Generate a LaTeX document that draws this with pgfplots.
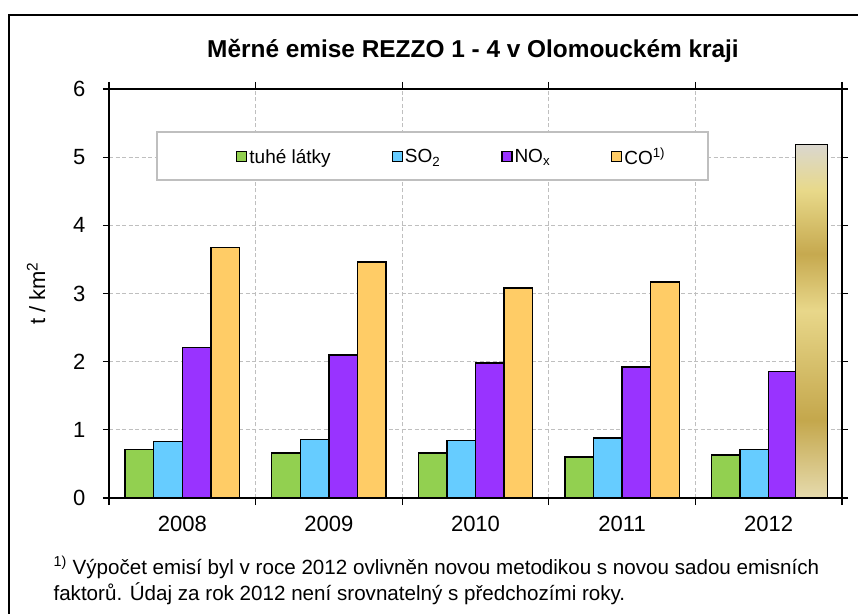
\documentclass[border=0pt]{standalone}
\usepackage{fontspec}
\setmainfont{Liberation Sans}
\usepackage{pgfplots}
\pgfplotsset{compat=1.18}
\definecolor{cgreen}{RGB}{146,208,80}
\definecolor{cblue}{RGB}{102,204,255}
\definecolor{cpurple}{RGB}{153,51,255}
\definecolor{corange}{RGB}{255,204,102}
\definecolor{cgrid}{RGB}{191,191,191}
\definecolor{g1}{RGB}{230,219,174}
\definecolor{g2}{RGB}{196,167,76}
\definecolor{g3}{RGB}{232,215,138}
\definecolor{g4}{RGB}{198,169,79}
\definecolor{g5}{RGB}{232,217,138}
\definecolor{g6}{RGB}{218,215,207}
\pgfdeclareverticalshading{goldbar}{100bp}{color(0bp)=(g1); color(25bp)=(g1); color(36bp)=(g2); color(51.5bp)=(g3); color(59.5bp)=(g4); color(68.5bp)=(g5); color(75bp)=(g6); color(100bp)=(g6)}
\begin{document}
\begin{tikzpicture}
\useasboundingbox (0pt,0pt) rectangle (858pt,613pt);
\draw[line width=1.2pt] (9pt,-5pt) -- (9pt,598pt) -- (870pt,598pt);
\node[anchor=base, font=\fontsize{24.4}{29}\selectfont\bfseries] at (473pt,555pt) {Měrné emise REZZO 1 - 4 v Olomouckém kraji};
\begin{axis}[
  at={(109pt,115pt)}, anchor=south west,
  scale only axis, width=733pt, height=409pt,
  xmin=0.5, xmax=5.5, ymin=0, ymax=6,
  ytick={0,1,2,3,4,5,6},
  xtick={1,2,3,4,5}, xticklabels={2008,2009,2010,2011,2012},
  minor xtick={0.5,1.5,2.5,3.5,4.5,5.5},
  tick align=outside,
  major tick length=6pt, minor tick length=7pt,
  every major x tick/.append style={draw=none},
  every minor x tick/.append style={black, line width=1.2pt},
  every major y tick/.append style={black, line width=1.2pt},
  ymajorgrids, xminorgrids,
  major grid style={cgrid, line width=1.3pt, dash pattern=on 4pt off 2.5pt},
  minor grid style={cgrid, line width=1.3pt, dash pattern=on 4pt off 2.5pt},
  axis line style={black, line width=1.6pt},
  /pgf/number format/assume math mode=true,
  tick label style={font=\fontsize{22}{26}\selectfont},
  yticklabel style={xshift=-14pt},
  xticklabel style={yshift=-9pt},
  ylabel={t / km\textsuperscript{2}},
  every axis y label/.style={at={(axis description cs:-0.0996,0.5)}, rotate=90, anchor=center, font=\fontsize{22}{26}\selectfont},
  legend columns=4,
  legend style={at={(axis description cs:0.1733,0.834)}, anchor=west, draw=none, fill=none, inner sep=0pt,
    font=\fontsize{19}{22}\selectfont,
    /tikz/every even column/.append style={column sep=59pt}},
  legend image code/.code={\draw[#1, draw=black, line width=1.2pt] (0pt,-5pt) rectangle (10pt,5pt);},
]
\addplot[ybar, bar width=0.195, bar shift=-0.2925, fill=cgreen, draw=black, line width=1.3pt]
  coordinates {(1,0.71) (2,0.66) (3,0.66) (4,0.60) (5,0.63)};
\addlegendentry{tuhé látky}
\addplot[ybar, bar width=0.195, bar shift=-0.0975, fill=cblue, draw=black, line width=1.3pt]
  coordinates {(1,0.83) (2,0.86) (3,0.84) (4,0.88) (5,0.71)};
\addlegendentry{SO\textsubscript{2}}
\addplot[ybar, bar width=0.195, bar shift=0.0975, fill=cpurple, draw=black, line width=1.3pt]
  coordinates {(1,2.21) (2,2.10) (3,1.98) (4,1.92) (5,1.86)};
\addlegendentry{NO\textsubscript{x}}
\addplot[ybar, bar width=0.195, bar shift=0.2925, fill=corange, draw=black, line width=1.3pt]
  coordinates {(1,3.67) (2,3.46) (3,3.08) (4,3.17)};
\addlegendentry{CO\textsuperscript{1)}}
\addplot[ybar, bar width=0.215, bar shift=0.2925, shade, shading=goldbar, draw=black, line width=1.3pt, forget plot]
  coordinates {(5,5.19)};
\draw[cgrid, line width=1.2pt, fill=white] (axis description cs:0.0655,0.7775) rectangle (axis description cs:0.8172,0.8949);
\end{axis}
\node[anchor=base west, font=\fontsize{20.6}{24}\selectfont] at (50pt,39pt) {\textsuperscript{1)} Výpočet emisí  byl v roce 2012 ovlivněn novou metodikou s novou sadou emisních};
\node[anchor=base west, font=\fontsize{20.6}{24}\selectfont] at (50pt,13pt) {faktorů. Údaj za rok 2012 není srovnatelný s předchozími roky.};
\end{tikzpicture}
\end{document}
